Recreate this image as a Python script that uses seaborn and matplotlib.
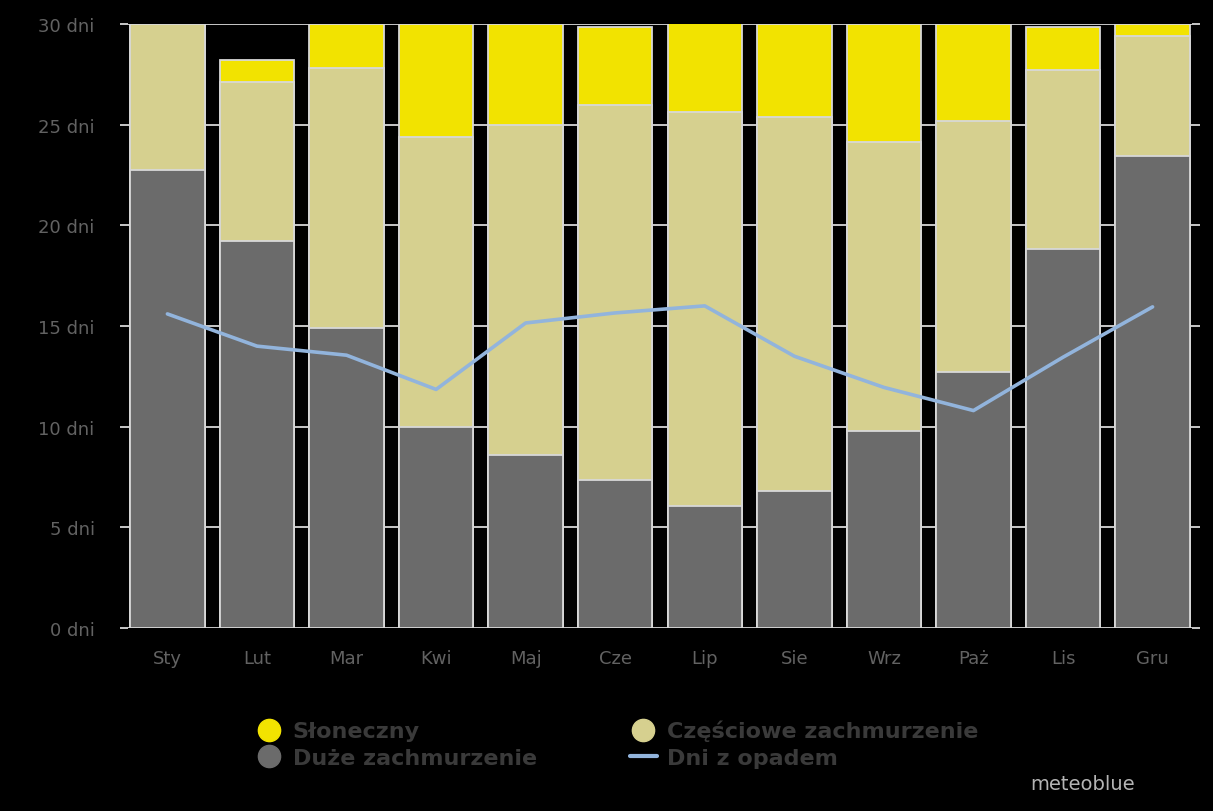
import numpy as np
import pandas as pd
import matplotlib
matplotlib.use("Agg")
import matplotlib.pyplot as plt
from matplotlib.lines import Line2D
import seaborn as sns

months = ["Sty", "Lut", "Mar", "Kwi", "Maj", "Cze", "Lip", "Sie", "Wrz", "Paż", "Lis", "Gru"]
overcast = [22.75, 19.2, 14.9, 10.0, 8.6, 7.35, 6.05, 6.8, 9.8, 12.7, 18.8, 23.45]
partly = [7.25, 7.9, 12.9, 14.4, 16.4, 18.65, 19.6, 18.6, 14.35, 12.5, 8.9, 5.95]
sunny = [0.0, 1.1, 2.2, 5.6, 5.0, 3.85, 4.4, 4.6, 5.85, 4.8, 2.15, 0.6]
precip = [15.6, 14.0, 13.55, 11.85, 15.15, 15.65, 16.0, 13.5, 11.95, 10.8, 13.45, 15.95]
yticks = [0, 5, 10, 15, 20, 25, 30]
ytick_labels = [f"{v} dni" for v in yticks]

C_SUN = "#f2e300"
C_PART = "#d6d08f"
C_OVER = "#6b6b6b"
C_LINE = "#92b4dc"
EDGE = "#d8d8d8"
BG = "#000000"

df = pd.DataFrame({"month": months, "overcast": overcast, "partly": partly, "sunny": sunny})
df["lvl2"] = df["overcast"] + df["partly"]
df["lvl3"] = df["lvl2"] + df["sunny"]

sns.set_theme(style="dark")
plt.rcParams["font.family"] = ["DejaVu Sans"]

fig = plt.figure(figsize=(12.13, 8.12), dpi=100, facecolor=BG)
ax = fig.add_axes([128 / 1213, 1 - 629 / 812, (1192 - 128) / 1213, (629 - 25) / 812])
ax.set_facecolor(BG)
ax.set_axisbelow(True)

for v in yticks:
    ax.axhline(v, color=EDGE, lw=1.3, zorder=0.5)

kw = dict(x="month", order=months, width=0.83, edgecolor=EDGE, linewidth=1.3, ax=ax, zorder=3)
sns.barplot(data=df, y="lvl3", color=C_SUN, saturation=1, **kw)
sns.barplot(data=df, y="lvl2", color=C_PART, saturation=1, **kw)
sns.barplot(data=df, y="overcast", color=C_OVER, saturation=1, **kw)

sns.lineplot(x=np.arange(len(months)), y=precip, color=C_LINE, lw=2.6, ax=ax, zorder=5)

ax.set_xlim(-0.44, 11.44)
ax.set_ylim(0, 30)
ax.set_yticks(yticks)
ax.set_yticklabels(ytick_labels)
ax.set_xlabel("")
ax.set_ylabel("")
for s in ax.spines.values():
    s.set_visible(False)
ax.tick_params(axis="y", which="both", left=True, right=True, length=6, width=1.3,
               color=EDGE, labelcolor="#626262", labelsize=13, pad=18)
ax.tick_params(axis="x", bottom=False, labelcolor="#626262", labelsize=13, pad=9)
ax.grid(False)

handles = [
    Line2D([], [], marker="o", ls="", color=C_SUN, markersize=16, label="Słoneczny"),
    Line2D([], [], marker="o", ls="", color=C_OVER, markersize=16, label="Duże zachmurzenie"),
    Line2D([], [], marker="o", ls="", color=C_PART, markersize=16, label="Częściowe zachmurzenie"),
    Line2D([], [], color=C_LINE, lw=3, label="Dni z opadem"),
]
leg = fig.legend(handles=handles, ncol=2, loc="upper left",
                 bbox_to_anchor=(236 / 1213, 1 - 701 / 812), frameon=False,
                 labelcolor="#3a3a3a", handlelength=1.2,
                 handletextpad=0.45, columnspacing=4.2, labelspacing=0.3,
                 prop={"weight": "bold", "size": 16})

fig.text(1135 / 1213, 1 - 785 / 812, "meteoblue", color="#b4b4b4", fontsize=14,
         ha="right", va="center")

fig.savefig("out.png", dpi=100, facecolor=BG)
